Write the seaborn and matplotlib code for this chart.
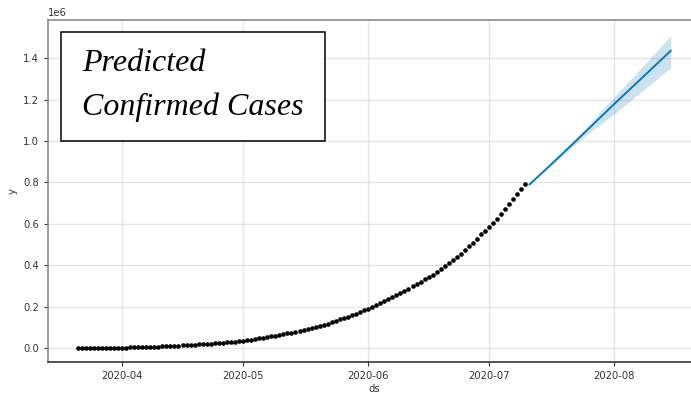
import matplotlib
matplotlib.use("Agg")
import matplotlib.pyplot as plt
import matplotlib.dates as mdates
from matplotlib.patches import Rectangle
import numpy as np
import pandas as pd
import seaborn as sns

# Observed cumulative confirmed cases, one value per day starting 2020-03-21
history_start = "2020-03-21"
confirmed = [
    244, 330, 396, 499, 536, 657, 727, 887, 987, 1024, 1251,
    1397, 1998, 2543, 2567, 3082, 3588, 4778, 5311, 5916, 6725,
    7598, 8446, 9205, 10453, 11487, 12322, 13430, 14352, 15722, 17615,
    18539, 20080, 21370, 23077, 24530, 26283, 27890, 29451, 31324, 33062,
    34863, 37257, 39699, 42505, 46437, 49400, 52987, 56351, 59695, 62808,
    67161, 70768, 74292, 78055, 81997, 85784, 90648, 95698, 100328, 106475,
    112028, 118226, 124794, 131423, 138536, 144950, 150793, 158086, 165386, 173491,
    181827, 190609, 198370, 207191, 216824, 226713, 236184, 246622, 257486, 265928,
    276146, 286605, 297535, 308993, 320922, 332424, 343091, 354065, 367264, 380532,
    395048, 410451, 425282, 440215, 456183, 473105, 490401, 508953, 528859, 548318,
    566840, 585481, 604641, 625544, 648315, 673165, 697413, 719665, 742417, 767296,
    793802,
]

# Forecast (yhat) with its uncertainty interval
forecast_dates = ["2020-07-11", "2020-07-18", "2020-07-25", "2020-08-01", "2020-08-08", "2020-08-15"]
yhat = [790000, 917000, 1047000, 1179000, 1307000, 1436000]
yhat_upper = [792000, 924000, 1065000, 1213000, 1360000, 1509000]
yhat_lower = [788000, 910000, 1028000, 1130000, 1243000, 1354000]

title_lines = ["Predicted", "Confirmed Cases"]

history = pd.DataFrame({
    "ds": pd.date_range(history_start, periods=len(confirmed), freq="D"),
    "y": confirmed,
})
forecast = pd.DataFrame({
    "ds": pd.to_datetime(forecast_dates),
    "yhat": yhat,
    "yhat_upper": yhat_upper,
    "yhat_lower": yhat_lower,
})

plt.rcParams["font.family"] = ["DejaVu Sans"]
plt.rcParams["font.size"] = 7.2

W, H = 691, 394
fig = plt.figure(figsize=(W / 100, H / 100), dpi=100, facecolor="white")
ax = fig.add_axes([48 / W, (H - 362) / H, 652 / W, 342 / H])
ax.set_facecolor("white")

sns.scatterplot(data=history, x="ds", y="y", ax=ax, color="black",
                s=11, linewidth=0, zorder=3)
sns.lineplot(data=forecast, x="ds", y="yhat", ax=ax, color="#0072B2",
             linewidth=1.3, zorder=4)
ax.fill_between(forecast["ds"], forecast["yhat_lower"], forecast["yhat_upper"],
                color="#0072B2", alpha=0.2, linewidth=0, zorder=2)

ax.set_ylim(-0.0676e6, 1.5845e6)
ax.set_xlim(pd.Timestamp("2020-03-13 16:00"), pd.Timestamp("2020-08-22 06:00"))
ax.xaxis.set_major_locator(mdates.MonthLocator())
ax.xaxis.set_major_formatter(mdates.DateFormatter("%Y-%m"))
ax.set_yticks(np.arange(0, 1.41e6, 0.2e6))

ax.grid(True, which="major", color="gray", linestyle="-", linewidth=1, alpha=0.2)
ax.set_axisbelow(True)
ax.set_xlabel("ds", color="#333333", labelpad=2)
ax.set_ylabel("y", color="#333333", labelpad=4)
ax.tick_params(colors="#333333", labelcolor="#333333", length=3, width=0.8)
ax.yaxis.get_offset_text().set_color("#333333")

for side in ("top", "left"):
    ax.spines[side].set_color("#8a8a8a")
    ax.spines[side].set_linewidth(1.2)
ax.spines["bottom"].set_color("#333333")
ax.spines["bottom"].set_linewidth(1.2)
ax.spines["right"].set_visible(False)

# Framed caption in the upper-left corner
ax.add_patch(Rectangle((13 / 652, (362 - 141) / 342), 264 / 652, 109 / 342,
                       transform=ax.transAxes, facecolor="white",
                       edgecolor="black", linewidth=1.1, zorder=5))
for line, base in zip(title_lines, (71, 115)):
    ax.text(34 / 652, (362 - base) / 342, line, transform=ax.transAxes,
            ha="left", va="baseline", fontsize=23, style="italic",
            family=["Liberation Serif", "DejaVu Serif"], color="black", zorder=6)

fig.savefig("out.png", dpi=100, facecolor="white")
